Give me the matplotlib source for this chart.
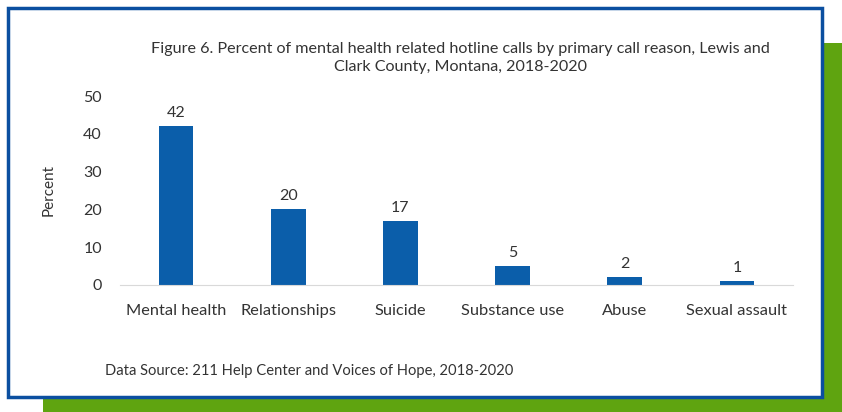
import matplotlib.pyplot as plt
from matplotlib.patches import Rectangle

categories = ["Mental health", "Relationships", "Suicide", "Substance use", "Abuse", "Sexual assault"]
percent = [42, 20, 17, 5, 2, 1]
yticks = [0, 10, 20, 30, 40, 50]

W, H = 842, 412
plt.rcParams['font.family'] = ['Lato', 'DejaVu Sans']
txt = '#333333'


def fx(x):
    return x / W


def fy(y):
    return 1 - y / H


fig = plt.figure(figsize=(W / 100, H / 100), dpi=100)

# green shadow + blue framed box
fig.patches.append(Rectangle((fx(43), 0), fx(W - 43), (H - 43) / H,
                             transform=fig.transFigure, facecolor='#5fa410', edgecolor='none', zorder=0))
fig.patches.append(Rectangle((fx(8), fy(397)), fx(822 - 8), (397 - 8) / H,
                             transform=fig.transFigure, facecolor='white', edgecolor='#0b4fa0',
                             linewidth=2.5, zorder=1))

ax = fig.add_axes([fx(120), fy(285), fx(793 - 120), (285 - 96) / H])
ax.set_zorder(2)
ax.patch.set_alpha(0)

x = range(len(categories))
bars = ax.bar(x, percent, width=0.31, color='#0b5eaa')
for xi, v in zip(x, percent):
    ax.text(xi, v + 1.6, str(v), ha='center', va='bottom', fontsize=11.5, color=txt)

ax.set_xlim(-0.5, len(categories) - 0.5)
ax.set_ylim(0, 50)
ax.set_yticks(yticks)
ax.set_xticks(list(x))
ax.set_xticklabels(categories, fontsize=11.8, color=txt)
ax.tick_params(axis='y', length=0, labelsize=11.5, labelcolor=txt, pad=13)
ax.tick_params(axis='x', length=0, pad=14)
for s in ['top', 'right', 'left']:
    ax.spines[s].set_visible(False)
ax.spines['bottom'].set_color('#d9d9d9')
ax.set_ylabel("Percent", fontsize=11, color=txt, labelpad=20)

fig.text(fx(460), fy(58), "Figure 6. Percent of mental health related hotline calls by primary call reason, Lewis and\nClark County, Montana, 2018-2020",
         ha='center', va='center', fontsize=11.6, color=txt, linespacing=1.35, zorder=3)
fig.text(fx(105), fy(371), "Data Source: 211 Help Center and Voices of Hope, 2018-2020",
         ha='left', va='center', fontsize=10.6, color=txt, zorder=3)

fig.savefig("out.png", dpi=100)
